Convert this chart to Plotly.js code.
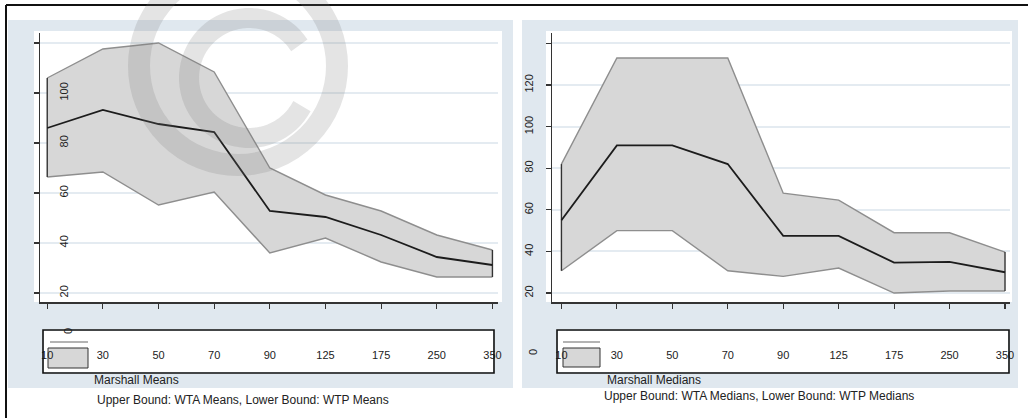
<!DOCTYPE html>
<html>
<head>
<meta charset="utf-8">
<script src="https://cdn.plot.ly/plotly-3.0.1.min.js"></script>
<style>html,body{margin:0;padding:0;background:#fff;}#chart{width:1028px;height:418px;}</style>
</head>
<body>
<div id="chart"></div>
<script>
// ---- data ----
const categories = ['10','30','50','70','90','125','175','250','350'];
const meansUpper  = [106, 117.6, 120, 108.4, 70, 59.2, 52.8, 43.2, 37.2];   // WTA means
const meansCenter = [86, 93.2, 87.6, 84.4, 52.8, 50.4, 43.2, 34.4, 31.2];   // Marshall means
const meansLower  = [66.4, 68.4, 55.2, 60.4, 36, 42, 32.4, 26.4, 26.4];     // WTP means
const mediansUpper  = [82, 133, 133, 133, 68, 64.7, 49, 49, 39.7];          // WTA medians
const mediansCenter = [55, 91, 91, 82, 47.5, 47.5, 34.6, 35, 30];           // Marshall medians
const mediansLower  = [30.7, 50, 50, 30.7, 28, 32, 20, 21, 21];             // WTP medians
const leftTicks  = [20, 40, 60, 80, 100, 120];
const leftTickText  = ['20', '40', '60', '80', '100', ''];
const rightTicks = [20, 40, 60, 80, 100, 120, 140];
const rightTickText = ['20', '40', '60', '80', '100', '120', ''];
const leftCaption1 = 'Marshall Means';
const leftCaption2 = 'Upper Bound: WTA Means, Lower Bound: WTP Means';
const rightCaption1 = 'Marshall Medians';
const rightCaption2 = 'Upper Bound: WTA Medians, Lower Bound: WTP Medians';

// ---- helpers ----
const W = 1028, H = 418;
const px = x => x / W;
const py = y => 1 - y / H;
const FONT = 'Liberation Sans, Arial, sans-serif';
const bandFill = '#d7d7d7', bandEdge = '#8e8e8e', centerCol = '#1c1c1c';

function panelTraces(lower, center, upper, xa, ya) {
  const last = categories.length - 1;
  return [
    {x: categories, y: lower, xaxis: xa, yaxis: ya, type: 'scatter', mode: 'lines',
     line: {color: bandEdge, width: 1.4}, hoverinfo: 'skip'},
    {x: categories, y: upper, xaxis: xa, yaxis: ya, type: 'scatter', mode: 'lines',
     fill: 'tonexty', fillcolor: bandFill, line: {color: bandEdge, width: 1.4}, hoverinfo: 'skip'},
    {x: [categories[0], categories[0], null, categories[last], categories[last]],
     y: [lower[0], upper[0], null, lower[last], upper[last]], xaxis: xa, yaxis: ya,
     type: 'scatter', mode: 'lines', line: {color: '#333', width: 1.4}, hoverinfo: 'skip'},
    {x: categories, y: center, xaxis: xa, yaxis: ya, type: 'scatter', mode: 'lines',
     line: {color: centerCol, width: 1.8}}
  ];
}

const data = [].concat(
  panelTraces(meansLower, meansCenter, meansUpper, 'x', 'y'),
  panelTraces(mediansLower, mediansCenter, mediansUpper, 'x2', 'y2'),
  // invisible carrier trace so the label-only overlay axis is drawn
  [{x: [categories[0]], y: [meansCenter[0]], xaxis: 'x', yaxis: 'y3', type: 'scatter',
    mode: 'markers', marker: {opacity: 0}, hoverinfo: 'skip'}]
);

const axisCommon = {
  showline: true, linecolor: '#333', linewidth: 1.5,
  ticks: 'outside', ticklen: 5, tickcolor: '#333', tickwidth: 1.2,
  zeroline: false, fixedrange: true,
  tickfont: {family: FONT, size: 11, color: '#222'}
};
const yDomain = [py(302), py(33)];
const leftRange = [16.4, 124];

const layout = {
  width: W, height: H,
  margin: {l: 0, r: 0, t: 0, b: 0},
  paper_bgcolor: '#ffffff', plot_bgcolor: '#ffffff',
  showlegend: false,
  xaxis: Object.assign({}, axisCommon, {
    domain: [px(40), px(498)], anchor: 'y', type: 'category',
    categoryarray: categories, range: [-0.13, 8.1], showgrid: false,
    ticklabelstandoff: 37
  }),
  yaxis: Object.assign({}, axisCommon, {
    domain: yDomain, anchor: 'x', range: leftRange,
    tickvals: leftTicks, showticklabels: false,
    showgrid: true, gridcolor: '#e4ebf1', gridwidth: 2
  }),
  yaxis3: {
    overlaying: 'y', anchor: 'free', position: px(70), side: 'left',
    range: leftRange, tickvals: leftTicks, ticktext: leftTickText, tickangle: -90,
    showline: false, ticks: '', showgrid: false, zeroline: false, fixedrange: true,
    tickfont: {family: FONT, size: 11, color: '#222'}
  },
  xaxis2: Object.assign({}, axisCommon, {
    domain: [px(552), px(1010)], anchor: 'y2', type: 'category',
    categoryarray: categories, range: [-0.17, 8.09], showgrid: false,
    ticklabelstandoff: 37
  }),
  yaxis2: Object.assign({}, axisCommon, {
    domain: yDomain, anchor: 'x2', range: [15.7, 145],
    tickvals: rightTicks, ticktext: rightTickText, tickangle: -90,
    ticklabelstandoff: 8,
    showgrid: true, gridcolor: '#e4ebf1', gridwidth: 2
  }),
  shapes: [],
  annotations: []
};

function rect(x0, y0, x1, y1, fill, lineCol, lw, layer) {
  return {type: 'rect', xref: 'paper', yref: 'paper',
    x0: px(x0), x1: px(x1), y0: py(y1), y1: py(y0),
    fillcolor: fill, line: {color: lineCol || 'rgba(0,0,0,0)', width: lw || 0}, layer: layer || 'below'};
}
function line(x0, y0, x1, y1, col, lw, layer) {
  return {type: 'line', xref: 'paper', yref: 'paper',
    x0: px(x0), x1: px(x1), y0: py(y0), y1: py(y1),
    line: {color: col, width: lw}, layer: layer || 'above'};
}

// panel backgrounds and white plot areas
layout.shapes.push(rect(8, 20, 513, 388, '#e0e8ef'));
layout.shapes.push(rect(522, 20, 1018, 388, '#e0e8ef'));
layout.shapes.push(rect(34, 31, 502, 302, '#ffffff'));
layout.shapes.push(rect(546, 31, 1012, 302, '#ffffff'));
// white inside legend boxes
layout.shapes.push(rect(44, 331, 493, 372, '#ffffff'));
layout.shapes.push(rect(558, 331, 1008, 372, '#ffffff'));
// legend samples (below the tick labels)
layout.shapes.push(line(50, 342, 88, 342, '#9a9a9a', 1.5, 'below'));
layout.shapes.push(rect(48, 348, 88, 368, bandFill, '#333', 1, 'below'));
layout.shapes.push(line(563, 342, 600, 342, '#9a9a9a', 1.5, 'below'));
layout.shapes.push(rect(563, 348, 600, 367, bandFill, '#333', 1, 'below'));
// outer frame
layout.shapes.push(line(6, 5, 1030, 5, '#111', 2));
layout.shapes.push(line(6, 5, 6, 420, '#111', 2));
// legend boxes
layout.shapes.push(rect(43, 330, 494, 373, 'rgba(0,0,0,0)', '#111', 1.6, 'above'));
layout.shapes.push(rect(557, 330, 1009, 373, 'rgba(0,0,0,0)', '#111', 1.6, 'above'));

// watermark (decoration): ring + C
const wm = 'rgba(120,120,120,0.2)';
const ringC = [238, 66], ringR = 99;
layout.shapes.push({type: 'circle', xref: 'paper', yref: 'paper',
  x0: px(ringC[0] - ringR), x1: px(ringC[0] + ringR),
  y0: py(ringC[1] + ringR), y1: py(ringC[1] - ringR),
  line: {color: wm, width: 22}, fillcolor: 'rgba(0,0,0,0)', layer: 'above'});
(function () {
  const cx = 249, cy = 78, r = 60;
  const a0 = 33, a1 = 332;
  let d = '';
  for (let i = 0; i <= 60; i++) {
    const a = (a0 + (a1 - a0) * i / 60) * Math.PI / 180;
    const x = cx + r * Math.cos(a), y = cy - r * Math.sin(a);
    d += (i === 0 ? 'M' : 'L') + px(x).toFixed(5) + ',' + py(y).toFixed(5);
  }
  layout.shapes.push({type: 'path', xref: 'paper', yref: 'paper', path: d,
    line: {color: wm, width: 20}, layer: 'above'});
})();

// captions
function txt(x, y, s, opts) {
  return Object.assign({xref: 'paper', yref: 'paper', x: px(x), y: py(y), text: s,
    showarrow: false, xanchor: 'left', yanchor: 'middle',
    font: {family: FONT, size: 12, color: '#222'}}, opts || {});
}
layout.annotations.push(txt(92, 380, leftCaption1));
layout.annotations.push(txt(95, 400, leftCaption2));
layout.annotations.push(txt(605, 380, rightCaption1));
layout.annotations.push(txt(602, 396, rightCaption2));
// stray zero labels seen in the picture
layout.annotations.push(txt(68, 331, '0', {xanchor: 'center', textangle: -90, font: {family: FONT, size: 11, color: '#222'}}));
layout.annotations.push(txt(533, 352, '0', {xanchor: 'center', textangle: -90, font: {family: FONT, size: 11, color: '#222'}}));

Plotly.newPlot('chart', data, layout, {staticPlot: true, displayModeBar: false});
</script>
</body>
</html>
